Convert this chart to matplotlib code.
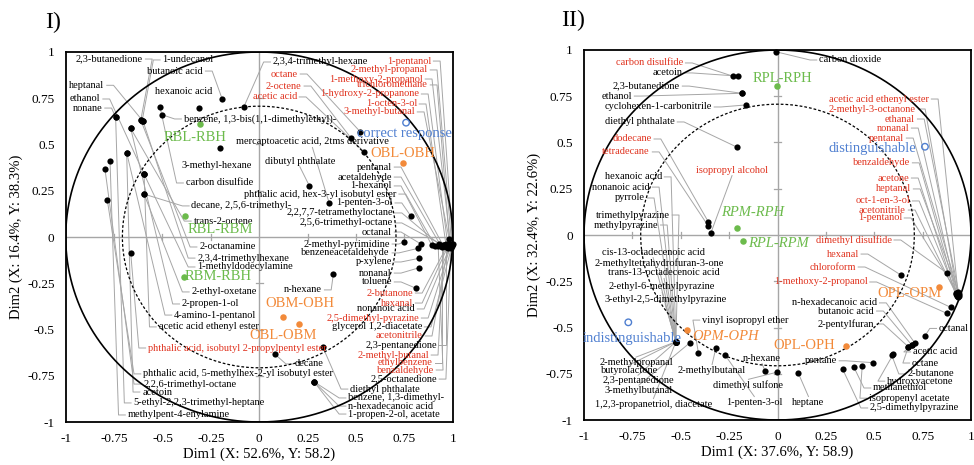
import numpy as np
import matplotlib
matplotlib.use("Agg")
import matplotlib.pyplot as plt

plt.rcParams['font.family'] = ['Liberation Serif', 'DejaVu Serif']

RED = '#e0321e'
GREEN = '#6cbb4c'
ORANGE = '#f28a3a'
BLUE = '#4f7fd0'
GREY = '#a6a6a6'

# ---------------- panel I : variables ----------------
names1 = ["2,3-butanedione", "1-undecanol", "butanoic acid", "heptanal", "ethanol", "nonane",
          "hexanoic acid", "benzene, 1,3-bis(1,1-dimethylethyl)-", "3-methyl-hexane", "carbon disulfide",
          "decane, 2,5,6-trimethyl-", "trans-2-octene", "2,3,4-trimethyl-hexane", "dibutyl phthalate",
          "mercaptoacetic acid, 2tms derivative", "octane", "2-octene", "acetic acid",
          "1-pentanol", "2-methyl-propanal", "1-methoxy-2-propanol", "trichloromethane",
          "1-hydroxy-2-propanone", "1-octen-3-ol", "3-methyl-butanal",
          "pentanal", "acetaldehyde", "1-hexanol", "phthalic acid, hex-3-yl isobutyl ester",
          "1-penten-3-ol", "2,2,7,7-tetramethyloctane", "2,5,6-trimethyl-octane", "octanal",
          "2-methyl-pyrimidine", "benzeneacetaldehyde", "p-xylene", "nonanal", "toluene", "n-hexane",
          "2-butanone", "hexanal", "nonanoic acid", "2,5-dimethyl-pyrazine", "glycerol 1,2-diacetate",
          "acetonitrile", "2,3-pentanedione", "2-methyl-butanal", "ethylbenzene", "benzaldehyde",
          "2,5-octanedione", "decane", "diethyl phthalate", "benzene, 1,3-dimethyl-",
          "n-hexadecanoic acid", "1-propen-2-ol, acetate",
          "2-octanamine", "2,3,4-trimethylhexane", "1-methyldodecylamine", "2-ethyl-oxetane",
          "2-propen-1-ol", "4-amino-1-pentanol", "acetic acid ethenyl ester",
          "phthalic acid, isobutyl 2-propylpentyl ester", "phthalic acid, 5-methylhex-2-yl isobutyl ester",
          "2,2,6-trimethyl-octane", "acetoin", "5-ethyl-2,2,3-trimethyl-heptane", "methylpent-4-enylamine"]
dim1_I = [-0.612, -0.605, -0.192, -0.600, -0.595, -0.742,
          -0.310, -0.502, -0.203, -0.513,
          -0.595, -0.664, -0.079, 0.259,
          0.362, 0.522, 0.473, 0.542,
          1.000, 0.995, 0.990, 0.985,
          0.975, 0.965, 0.982,
          0.950, 0.940, 0.892, 0.910,
          0.783, 0.930, 0.960, 0.836,
          0.750, 0.822, 0.827, 0.827, 0.810, 0.383,
          0.970, 0.980, 0.985, 0.990, 0.995,
          0.975, 0.965, 0.955, 0.945, 0.925,
          0.990, 0.082, 0.328, 0.283,
          0.283, 0.283,
          -0.612, -0.600, -0.595, -0.595,
          -0.664, -0.685, -0.595,
          -0.664, -0.785,
          -0.797, -0.685, -0.742, -0.771]
dim2_I = [0.632, 0.628, 0.748, 0.625, 0.340, 0.647,
          0.696, 0.661, 0.479, 0.704,
          0.232, 0.587, 0.704, 0.277,
          0.182, 0.569, 0.537, 0.461,
          -0.040, -0.045, -0.050, -0.040,
          -0.045, -0.040, -0.012,
          -0.045, -0.050, -0.045, -0.050,
          0.114, -0.040, -0.050, -0.038,
          -0.025, -0.061, -0.115, -0.166, -0.277, -0.202,
          -0.050, -0.040, -0.055, -0.045, -0.050,
          -0.060, -0.055, -0.045, -0.055, -0.050,
          -0.060, -0.634, -0.593, -0.782,
          -0.782, -0.782,
          0.632, 0.625, 0.340, 0.232,
          0.587, 0.456, 0.340,
          -0.088, 0.200,
          0.366, 0.456, 0.647, 0.412]
red_I = {"octane", "2-octene", "acetic acid", "1-pentanol", "2-methyl-propanal", "1-methoxy-2-propanol",
         "trichloromethane", "1-hydroxy-2-propanone", "1-octen-3-ol", "3-methyl-butanal", "2-butanone",
         "hexanal", "2,5-dimethyl-pyrazine", "acetonitrile", "2-methyl-butanal", "ethylbenzene",
         "benzaldehyde", "phthalic acid, isobutyl 2-propylpentyl ester"}

# label placement (layout), same order as names1: x, y, alignment
lab_I = [(-0.60, 0.962, 'right'), (-0.50, 0.957, 'left'), (-0.29, 0.897, 'right'), (-0.80, 0.82, 'right'),
         (-0.82, 0.746, 'right'), (-0.81, 0.697, 'right'),
         (-0.39, 0.784, 'free'), (-0.39, 0.638, 'left'), (-0.22, 0.384, 'free'), (-0.38, 0.292, 'left'),
         (-0.35, 0.168, 'left'), (-0.34, 0.086, 'left'), (0.07, 0.946, 'left'), (0.21, 0.41, 'center'),
         (0.275, 0.514, 'center'), (0.20, 0.881, 'right'), (0.22, 0.816, 'right'), (0.195, 0.757, 'right'),
         (0.888, 0.951, 'right'), (0.872, 0.903, 'right'), (0.846, 0.854, 'right'), (0.872, 0.822, 'right'),
         (0.826, 0.773, 'right'), (0.815, 0.719, 'right'), (0.805, 0.676, 'right'),
         (0.686, 0.378, 'right'), (0.686, 0.324, 'right'), (0.686, 0.276, 'right'), (0.71, 0.232, 'right'),
         (0.69, 0.184, 'right'), (0.69, 0.13, 'right'), (0.69, 0.076, 'right'), (0.686, 0.027, 'right'),
         (0.675, -0.038, 'right'), (0.675, -0.086, 'right'), (0.686, -0.135, 'right'), (0.686, -0.195, 'right'),
         (0.686, -0.243, 'right'), (0.325, -0.286, 'right'),
         (0.795, -0.303, 'right'), (0.795, -0.357, 'right'), (0.805, -0.389, 'right'), (0.826, -0.438, 'right'),
         (0.841, -0.486, 'right'), (0.846, -0.535, 'right'), (0.918, -0.584, 'right'), (0.877, -0.638, 'right'),
         (0.898, -0.681, 'right'), (0.903, -0.719, 'right'), (0.918, -0.768, 'right'),
         (0.185, -0.686, 'left'), (0.47, -0.822, 'left'), (0.46, -0.870, 'left'),
         (0.46, -0.914, 'left'), (0.46, -0.957, 'left'),
         (-0.31, -0.054, 'left'), (-0.32, -0.114, 'left'), (-0.32, -0.162, 'left'), (-0.35, -0.297, 'left'),
         (-0.40, -0.362, 'left'), (-0.44, -0.422, 'left'), (-0.52, -0.486, 'left'),
         (-0.575, -0.60, 'left'), (-0.60, -0.74, 'left'),
         (-0.60, -0.795, 'left'), (-0.605, -0.838, 'left'), (-0.65, -0.897, 'left'), (-0.68, -0.962, 'left')]

# panel I : samples
samp1 = ["RBL-RBH", "RBL-RBM", "RBM-RBH", "OBM-OBH", "OBL-OBM", "OBL-OBH"]
samp1_x = [-0.306, -0.385, -0.387, 0.121, 0.204, 0.741]
samp1_y = [0.609, 0.114, -0.218, -0.431, -0.472, 0.402]
samp1_col = [GREEN, GREEN, GREEN, ORANGE, ORANGE, ORANGE]
samp1_lab = [(-0.33, 0.54, 'normal'), (-0.20, 0.038, 'normal'), (-0.21, -0.216, 'normal'),
             (0.21, -0.362, 'normal'), (0.124, -0.53, 'normal'), (0.74, 0.454, 'normal')]
resp1 = ["correct response"]
resp1_x = [0.759]
resp1_y = [0.618]
resp1_lab = [(0.748, 0.562)]

# ---------------- panel II : variables ----------------
names2 = ["carbon disulfide", "acetoin", "2,3-butanedione", "ethanol", "cyclohexen-1-carbonitrile",
          "diethyl phthalate", "dodecane", "tetradecane", "isopropyl alcohol",
          "hexanoic acid", "nonanoic acid", "pyrrole", "trimethylpyrazine", "methylpyrazine",
          "cis-13-octadecenoic acid", "2-methyltetrahydrofuran-3-one", "trans-13-octadecenoic acid",
          "2-ethyl-6-methylpyrazine", "3-ethyl-2,5-dimethylpyrazine",
          "2-methylpropanal", "butyrolactone", "2,3-pentanedione", "3-methylbutanal",
          "1,2,3-propanetriol, diacetate",
          "vinyl isopropyl ether", "2-methylbutanal", "n-hexane", "dimethyl sulfone", "1-penten-3-ol",
          "heptane", "pentane", "hydroxyacetone", "methanethiol", "isopropenyl acetate",
          "2,5-dimethylpyrazine", "2-butanone", "octane", "acetic acid", "octanal",
          "n-hexadecanoic acid", "butanoic acid", "2-pentylfuran",
          "dimethyl disulfide", "hexanal", "chloroform", "1-methoxy-2-propanol",
          "acetic acid ethenyl ester", "2-methyl-3-octanone", "ethanal", "nonanal", "pentanal",
          "benzaldehyde", "acetone", "heptanal", "oct-1-en-3-ol", "acetonitrile", "1-pentanol",
          "carbon dioxide"]
dim1_II = [-0.232, -0.203, -0.185, -0.185, -0.163,
           -0.208, -0.358, -0.358, -0.344,
           -0.525, -0.525, -0.525, -0.525, -0.525,
           -0.525, -0.525, -0.525,
           -0.525, -0.525,
           -0.525, -0.525, -0.525, -0.452,
           -0.525,
           -0.409, -0.319, -0.065, -0.004, -0.271,
           0.108, 0.492, 0.599, 0.395, 0.438,
           0.337, 0.590, 0.676, 0.694, 0.762,
           0.711, 0.694, 0.676,
           0.878, 0.637, 0.895, 0.874,
           0.934, 0.930, 0.940, 0.925, 0.935,
           0.928, 0.920, 0.938, 0.932, 0.926, 0.930,
           -0.010]
dim2_II = [0.859, 0.859, 0.766, 0.766, 0.703,
           0.474, 0.072, 0.049, 0.012,
           -0.577, -0.577, -0.577, -0.577, -0.577,
           -0.577, -0.577, -0.577,
           -0.577, -0.577,
           -0.577, -0.577, -0.577, -0.582,
           -0.577,
           -0.636, -0.613, -0.733, -0.742, -0.649,
           -0.748, -0.690, -0.643, -0.715, -0.706,
           -0.726, -0.649, -0.604, -0.595, -0.546,
           -0.586, -0.595, -0.604,
           -0.207, -0.216, -0.391, -0.423,
           -0.324, -0.320, -0.330, -0.315, -0.310,
           -0.330, -0.320, -0.318, -0.335, -0.325, -0.313,
           0.991]
red_II = {"carbon disulfide", "dodecane", "tetradecane", "isopropyl alcohol", "dimethyl disulfide",
          "hexanal", "chloroform", "1-methoxy-2-propanol", "acetic acid ethenyl ester",
          "2-methyl-3-octanone", "ethanal", "nonanal", "pentanal", "benzaldehyde", "acetone",
          "heptanal", "oct-1-en-3-ol", "acetonitrile", "1-pentanol"}

lab_II = [(-0.488, 0.93, 'right'), (-0.488, 0.876, 'right'), (-0.504, 0.805, 'right'), (-0.752, 0.751, 'right'),
          (-0.339, 0.692, 'right'),
          (-0.53, 0.611, 'right'), (-0.65, 0.519, 'right'), (-0.659, 0.449, 'right'), (-0.235, 0.351, 'center'),
          (-0.597, 0.314, 'right'), (-0.659, 0.259, 'right'), (-0.685, 0.20, 'right'), (-0.556, 0.108, 'right'),
          (-0.617, 0.054, 'right'),
          (-0.643, -0.092, 'center'), (-0.612, -0.151, 'center'), (-0.586, -0.205, 'center'),
          (-0.596, -0.281, 'center'), (-0.58, -0.346, 'center'),
          (-0.731, -0.69, 'center'), (-0.767, -0.733, 'center'), (-0.721, -0.788, 'center'), (-0.716, -0.841, 'center'),
          (-0.641, -0.914, 'center'),
          (-0.39, -0.46, 'left'), (-0.338, -0.73, 'center'), (-0.08, -0.665, 'center'), (-0.15, -0.81, 'center'),
          (-0.12, -0.903, 'center'),
          (0.16, -0.903, 'center'), (0.307, -0.68, 'right'), (0.566, -0.79, 'left'), (0.494, -0.827, 'left'),
          (0.473, -0.882, 'left'),
          (0.478, -0.935, 'left'), (0.674, -0.751, 'left'), (0.695, -0.692, 'left'), (0.70, -0.632, 'left'),
          (0.834, -0.505, 'left'),
          (0.515, -0.367, 'right'), (0.50, -0.411, 'right'), (0.50, -0.481, 'right'),
          (0.59, -0.027, 'right'), (0.42, -0.103, 'right'), (0.405, -0.173, 'right'), (0.465, -0.254, 'right'),
          (0.783, 0.735, 'right'), (0.716, 0.681, 'right'), (0.711, 0.627, 'right'), (0.68, 0.578, 'right'),
          (0.654, 0.524, 'right'),
          (0.685, 0.39, 'right'), (0.68, 0.308, 'right'), (0.69, 0.249, 'right'), (0.685, 0.184, 'right'),
          (0.664, 0.135, 'right'), (0.643, 0.092, 'right'),
          (0.215, 0.946, 'left')]

samp2 = ["RPL-RPH", "RPM-RPH", "RPL-RPM", "OPM-OPH", "OPL-OPH", "OPL-OPM"]
samp2_x = [-0.004, -0.208, -0.177, -0.469, 0.352, 0.836]
samp2_y = [0.805, 0.036, -0.031, -0.514, -0.600, -0.279]
samp2_col = [GREEN, GREEN, GREEN, ORANGE, ORANGE, ORANGE]
samp2_lab = [(0.025, 0.848, 'normal'), (-0.13, 0.124, 'italic'), (0.003, -0.045, 'italic'),
             (-0.27, -0.55, 'italic'), (0.137, -0.595, 'normal'), (0.68, -0.314, 'normal')]
resp2 = ["distinguishable", "indistinguishable"]
resp2_x = [0.762, -0.771]
resp2_y = [0.477, -0.472]
resp2_lab = [(0.49, 0.47), (-0.752, -0.557)]

ticks = [-1, -0.75, -0.5, -0.25, 0, 0.25, 0.5, 0.75, 1]
tick_labels = ["-1", "-0.75", "-0.5", "-0.25", "0", "0.25", "0.5", "0.75", "1"]


def draw_panel(ax, names, xs, ys, reds, labs, samp, sx, sy, scol, slab, resp, rx, ry, rlab,
               xlabel, ylabel, title, title_x):
    ax.set_xlim(-1, 1)
    ax.set_ylim(-1, 1)
    # grey axes through origin with small ticks
    ax.axhline(0, color=GREY, lw=1.0, zorder=1)
    ax.axvline(0, color=GREY, lw=1.0, zorder=1)
    for t in ticks:
        if t in (-1, 0, 1):
            continue
        ax.plot([t, t], [-0.018, 0.018], color=GREY, lw=0.9, zorder=1)
        ax.plot([-0.018, 0.018], [t, t], color=GREY, lw=0.9, zorder=1)
    # circles
    th = np.linspace(0, 2 * np.pi, 400)
    ax.plot(np.cos(th), np.sin(th), color='black', lw=1.2, zorder=2)
    r = np.sqrt(0.5)
    ax.plot(r * np.cos(th), r * np.sin(th), color='black', lw=0.9, ls=(0, (2.2, 1.6)), zorder=2)

    gap, dash = 0.012, 0.035
    for name, px, py, (tx, ty, ha) in zip(names, xs, ys, labs):
        col = RED if name in reds else 'black'
        if ha == 'right':
            ax.plot([tx + gap, tx + gap + dash, px], [ty, ty, py], color=GREY, lw=0.7, zorder=1)
        elif ha == 'left':
            ax.plot([tx - gap, tx - gap - dash, px], [ty, ty, py], color=GREY, lw=0.7, zorder=1)
        elif ha == 'center':
            sgn = -1 if py < ty else 1
            ax.plot([tx, px], [ty + sgn * 0.03, py], color=GREY, lw=0.7, zorder=1)
        ax.text(tx, ty, name, ha='center' if ha in ('center', 'free') else ha, va='center',
                fontsize=7.5, color=col, zorder=4)
    ax.scatter(xs, ys, s=20, color='black', zorder=3, clip_on=False, linewidths=0)

    for name, px, py, c, (tx, ty, st) in zip(samp, sx, sy, scol, slab):
        ax.scatter([px], [py], s=22, color=c, zorder=3, linewidths=0)
        ax.text(tx, ty, name, ha='center', va='center', fontsize=10.5, color=c, style=st, zorder=4)
    for name, px, py, (tx, ty) in zip(resp, rx, ry, rlab):
        ax.scatter([px], [py], s=22, facecolors='none', edgecolors=BLUE, linewidths=1.0, zorder=3)
        ax.text(tx, ty, name, ha='center', va='center', fontsize=10.5, color=BLUE, zorder=4)

    ax.set_xticks(ticks)
    ax.set_xticklabels(tick_labels, fontsize=9.5)
    ax.set_yticks(ticks)
    ax.set_yticklabels(tick_labels, fontsize=9.5)
    ax.tick_params(length=0, pad=8)
    for sp in ax.spines.values():
        sp.set_linewidth(1.3)
    ax.set_xlabel(xlabel, fontsize=10.5, labelpad=2)
    ax.set_ylabel(ylabel, fontsize=10.5, labelpad=3)
    ax.text(title_x, 1.08, title, transform=ax.transAxes, fontsize=17, ha='center', va='center')


fig = plt.figure(figsize=(9.74, 4.65), dpi=100)
ax1 = fig.add_axes([65.7 / 974, 43 / 465, 387 / 974, 370 / 465])
ax2 = fig.add_axes([584 / 974, 45 / 465, 387 / 974, 370 / 465])

draw_panel(ax1, names1, dim1_I, dim2_I, red_I, lab_I, samp1, samp1_x, samp1_y, samp1_col, samp1_lab,
           resp1, resp1_x, resp1_y, resp1_lab,
           "Dim1 (X: 52.6%, Y: 58.2)", "Dim2 (X: 16.4%, Y: 38.3%)", "I)", -0.033)
draw_panel(ax2, names2, dim1_II, dim2_II, red_II, lab_II, samp2, samp2_x, samp2_y, samp2_col, samp2_lab,
           resp2, resp2_x, resp2_y, resp2_lab,
           "Dim1 (X: 37.6%, Y: 58.9)", "Dim2 (X: 32.4%, Y: 22.6%)", "II)", -0.028)

fig.savefig("out.png", dpi=100)
